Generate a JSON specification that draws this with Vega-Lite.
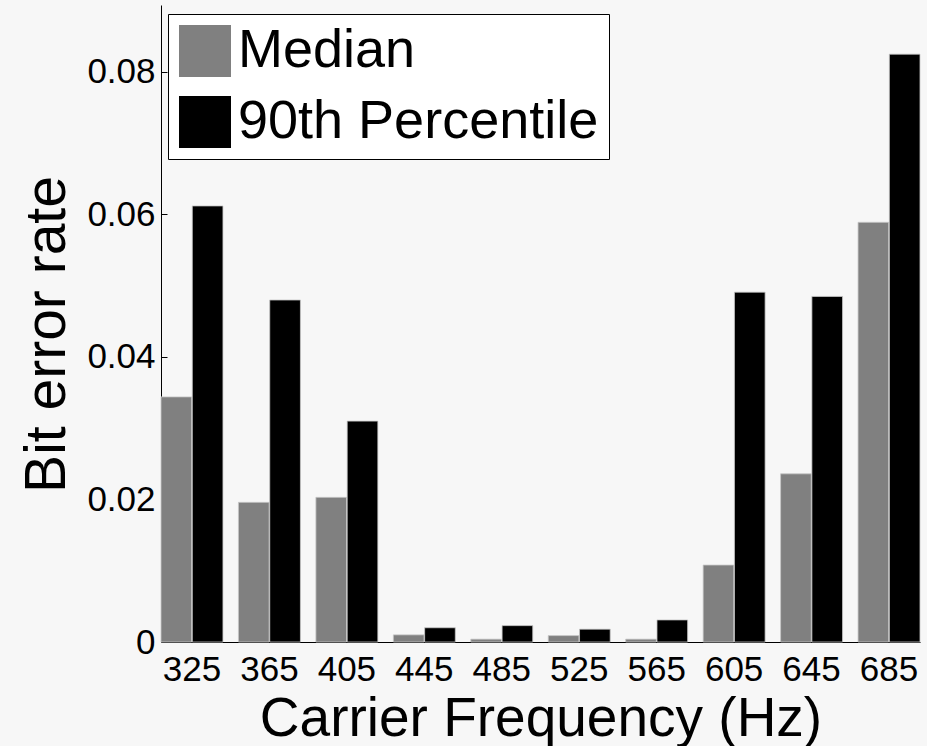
{
  "$schema": "https://vega.github.io/schema/vega-lite/v6.json",
  "width": 759,
  "height": 637,
  "autosize": {"type": "none"},
  "padding": {"left": 161, "top": 5, "right": 7, "bottom": 104},
  "background": "#f7f7f7",
  "data": {
    "values": [
      {"freq": "325", "stat": "Median", "ber": 0.0344},
      {"freq": "325", "stat": "90th Percentile", "ber": 0.0612},
      {"freq": "365", "stat": "Median", "ber": 0.0196},
      {"freq": "365", "stat": "90th Percentile", "ber": 0.0480},
      {"freq": "405", "stat": "Median", "ber": 0.0203},
      {"freq": "405", "stat": "90th Percentile", "ber": 0.0310},
      {"freq": "445", "stat": "Median", "ber": 0.0010},
      {"freq": "445", "stat": "90th Percentile", "ber": 0.0020},
      {"freq": "485", "stat": "Median", "ber": 0.0004},
      {"freq": "485", "stat": "90th Percentile", "ber": 0.0023},
      {"freq": "525", "stat": "Median", "ber": 0.0009},
      {"freq": "525", "stat": "90th Percentile", "ber": 0.0018},
      {"freq": "565", "stat": "Median", "ber": 0.0004},
      {"freq": "565", "stat": "90th Percentile", "ber": 0.0031},
      {"freq": "605", "stat": "Median", "ber": 0.0108},
      {"freq": "605", "stat": "90th Percentile", "ber": 0.0491},
      {"freq": "645", "stat": "Median", "ber": 0.0236},
      {"freq": "645", "stat": "90th Percentile", "ber": 0.0485},
      {"freq": "685", "stat": "Median", "ber": 0.0589},
      {"freq": "685", "stat": "90th Percentile", "ber": 0.0825}
    ]
  },
  "mark": {"type": "bar", "stroke": "#c8c8c8", "strokeWidth": 0.8},
  "encoding": {
    "x": {
      "field": "freq",
      "type": "nominal",
      "sort": null,
      "scale": {"paddingInner": 0.2, "paddingOuter": 0},
      "axis": {
        "title": "Carrier Frequency (Hz)",
        "labelAngle": 0,
        "ticks": false,
        "domainColor": "#000000",
        "domainWidth": 1,
        "labelFontSize": 35,
        "labelColor": "#000000",
        "labelPadding": 10,
        "titleFontSize": 55,
        "titleFontWeight": "normal",
        "titleColor": "#000000",
        "titlePadding": 5
      }
    },
    "xOffset": {
      "field": "stat",
      "type": "nominal",
      "sort": ["Median", "90th Percentile"],
      "scale": {"paddingInner": 0.02, "paddingOuter": 0}
    },
    "y": {
      "field": "ber",
      "type": "quantitative",
      "scale": {"domain": [0, 0.0894], "nice": false, "zero": true},
      "axis": {
        "title": "Bit error rate",
        "values": [0, 0.02, 0.04, 0.06, 0.08],
        "labelExpr": "datum.value == 0 ? '0' : format(datum.value, '.2f')",
        "grid": false,
        "tickSize": -6,
        "tickColor": "#000000",
        "tickWidth": 1,
        "domainColor": "#000000",
        "domainWidth": 1,
        "labelFontSize": 35,
        "labelColor": "#000000",
        "labelPadding": 12,
        "titleFontSize": 57,
        "titleFontWeight": "normal",
        "titleColor": "#000000",
        "titlePadding": 10,
        "titleY": 329
      }
    },
    "color": {
      "field": "stat",
      "type": "nominal",
      "sort": ["Median", "90th Percentile"],
      "scale": {"domain": ["Median", "90th Percentile"], "range": ["#808080", "#000000"]},
      "legend": {
        "title": null,
        "orient": "none",
        "legendX": 7,
        "legendY": 9,
        "symbolType": "square",
        "symbolSize": 2704,
        "symbolStrokeWidth": 0,
        "symbolOpacity": 1,
        "labelFontSize": 54,
        "labelColor": "#000000",
        "labelOffset": 6,
        "labelLimit": 500,
        "rowPadding": 17,
        "padding": 10,
        "fillColor": "#ffffff",
        "strokeColor": "#000000"
      }
    }
  },
  "config": {
    "font": "Liberation Sans",
    "view": {"stroke": null}
  }
}
